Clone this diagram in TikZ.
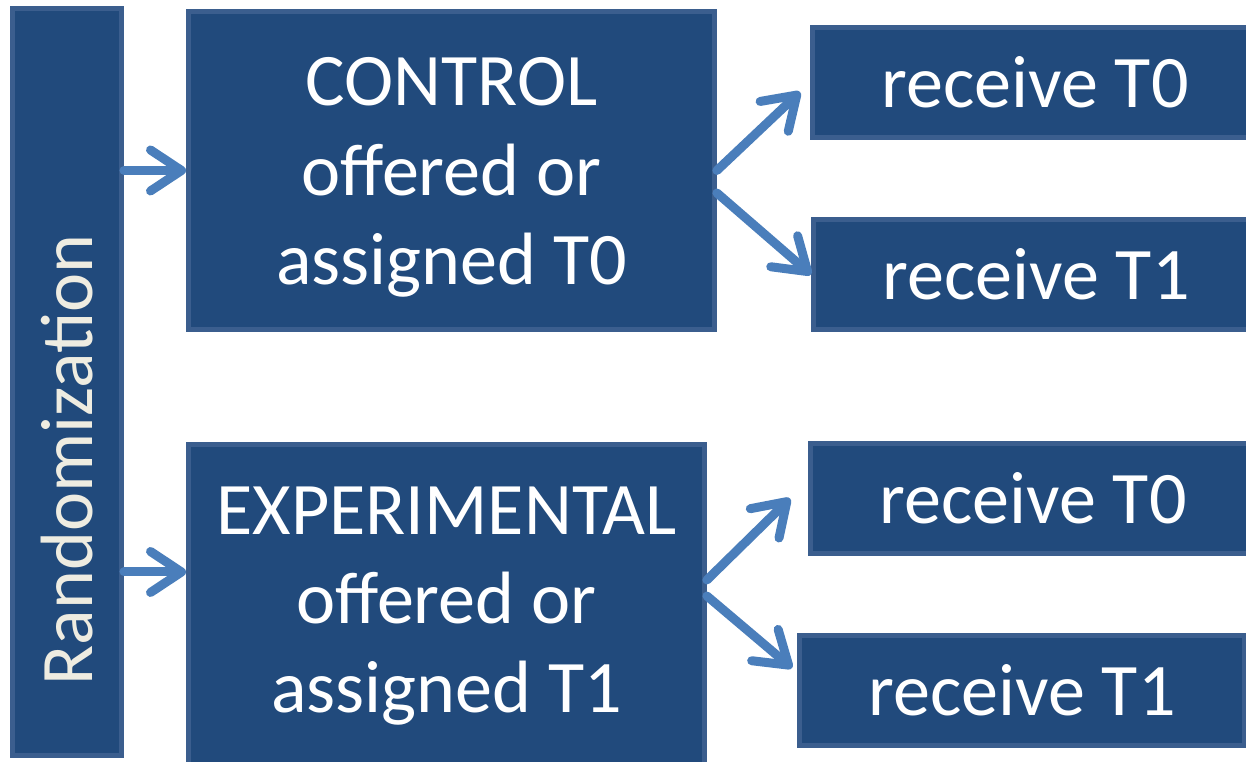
\documentclass[tikz,border=0pt]{standalone}
\usepackage{fontspec}
\setmainfont{Carlito}
\usetikzlibrary{arrows.meta}
\definecolor{boxfill}{HTML}{214A7C}
\definecolor{boxline}{HTML}{3B5E8E}
\definecolor{arrblue}{HTML}{4A7EBB}
\definecolor{offwhite}{HTML}{EEECE1}
\begin{document}
\begin{tikzpicture}[x=0.02cm,y=-0.02cm,
    box/.style={draw=boxline,fill=boxfill,line width=0.1cm,rectangle,inner sep=0pt,
                anchor=north west,text=white,align=center,text depth=0pt,
                font=\fontsize{42.2}{50.8}\selectfont},
    big/.style={box,minimum height=6.36cm},
    small/.style={box,minimum width=8.9cm,minimum height=2.2cm,text height=29pt},
    arr/.style={draw=arrblue,line width=0.18cm,line cap=round,
                -{Straight Barb[length=0.62cm,width=0.82cm,round]}}]
    \useasboundingbox (0,0) rectangle (1246,761);
    \clip (0,0) rectangle (1246,761);
    \node (rand) [box,minimum width=2.18cm,minimum height=14.94cm] at (10,6) {};
    \node (randtxt) [rotate=90,text=offwhite,font=\fontsize{42.2}{50.8}\selectfont]
        at ([yshift=-1.56cm]rand.center) {Randomization};
    \node (ctrl) [big,minimum width=10.52cm,text height=129.8pt] at (186,9) {CONTROL\\offered or\\assigned T0};
    \node (exp) [big,minimum width=10.32cm,minimum height=6.56cm,text height=118.5pt] at (186,442) {EXPERIMENTAL\\offered or\\assigned T1};
    \node (r0) [small] at (810,25) {receive T0};
    \node (r1) [small] at (811,217) {receive T1};
    \node (r0b) [small] at (808,441) {receive T0};
    \node (r1b) [small] at (797,633) {receive T1};
    \path (rand.east |- ctrl.west) edge[arr] (ctrl.west)
          ([yshift=0.73cm]rand.east |- exp.west) edge[arr] ([yshift=0.73cm]exp.west)
          (ctrl.east) edge[arr] ([shift={(-0.2cm,-0.19cm)}]r0.west)
          ([yshift=-0.45cm]ctrl.east) edge[arr] (r1.west)
          ([yshift=0.57cm]exp.east) edge[arr] ([xshift=-0.36cm]r0b.west)
          ([yshift=0.25cm]exp.east) edge[arr] ([shift={(-0.1cm,0.45cm)}]r1b.west);
\end{tikzpicture}
\end{document}
